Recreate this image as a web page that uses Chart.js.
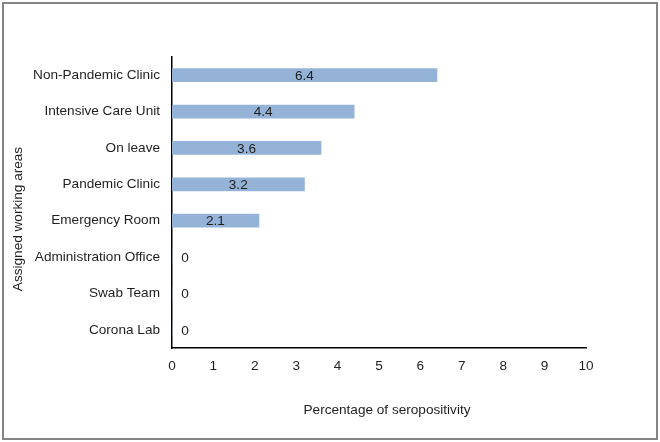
<!DOCTYPE html>
<html>
<head>
<meta charset="utf-8">
<script src="https://cdn.jsdelivr.net/npm/chart.js@4.4.0/dist/chart.umd.min.js"></script>
<style>
  html, body { margin: 0; padding: 0; background: #fff; }
  #wrap { position: relative; width: 660px; height: 442px; }
  #frame { position: absolute; left: 2px; top: 2px; width: 652px; height: 434px; border: 2px solid #858585; pointer-events: none; }
  canvas { position: absolute; left: 0; top: 0; }
</style>
</head>
<body>
<div id="wrap">
  <canvas id="chart" width="660" height="442"></canvas>
  <div id="frame"></div>
</div>
<script>
// Data
const areas = ['Non-Pandemic Clinic', 'Intensive Care Unit', 'On leave', 'Pandemic Clinic',
  'Emergency Room', 'Administration Office', 'Swab Team', 'Corona Lab'];
const seropositivity = [6.4, 4.4, 3.6, 3.2, 2.1, 0, 0, 0];
const xTicks = [0, 1, 2, 3, 4, 5, 6, 7, 8, 9, 10];

const FONT = 'Liberation Sans, Arial, sans-serif';
const SIZE = 13.6;
const TEXT = '#1f1f1f';

// Value labels inside / beside bars
const valueLabels = {
  id: 'valueLabels',
  afterDatasetsDraw(chart) {
    const ctx = chart.ctx;
    const meta = chart.getDatasetMeta(0);
    const xs = chart.scales.x;
    ctx.save();
    ctx.font = SIZE + 'px ' + FONT;
    ctx.fillStyle = TEXT;
    ctx.textAlign = 'center';
    ctx.textBaseline = 'middle';
    meta.data.forEach((bar, i) => {
      const v = seropositivity[i];
      const x = v > 0 ? (xs.getPixelForValue(0) + bar.x) / 2 : xs.getPixelForValue(0) + 13;
      ctx.fillText(String(v), x, bar.y + 1);
    });
    ctx.restore();
  }
};

// Axis titles, placed like the reference (slightly off-centre)
const axisTitles = {
  id: 'axisTitles',
  afterDraw(chart) {
    const ctx = chart.ctx;
    ctx.save();
    ctx.font = SIZE + 'px ' + FONT;
    ctx.fillStyle = TEXT;
    ctx.textAlign = 'center';
    ctx.textBaseline = 'middle';
    ctx.fillText('Percentage of seropositivity', 387, 410);
    ctx.translate(18, 219);
    ctx.rotate(-Math.PI / 2);
    ctx.fillText('Assigned working areas', 0, 0);
    ctx.restore();
  }
};

new Chart(document.getElementById('chart'), {
  type: 'bar',
  data: {
    labels: areas,
    datasets: [{
      data: seropositivity,
      backgroundColor: '#95b3d7',
      borderWidth: 0,
      barThickness: 13
    }]
  },
  options: {
    indexAxis: 'y',
    responsive: false,
    animation: false,
    layout: { padding: { top: 57, right: 74, left: 10, bottom: 24 } },
    plugins: {
      legend: { display: false },
      tooltip: { enabled: false }
    },
    scales: {
      x: {
        min: 0,
        max: 10,
        afterBuildTicks(scale) { scale.ticks = xTicks.map(v => ({ value: v })); },
        grid: { display: false, drawTicks: false },
        border: { color: '#000', width: 1.5 },
        ticks: { padding: 10, color: TEXT, font: { family: FONT, size: SIZE } },
        afterFit(scale) { scale.height = 442 - 348 - 24; }
      },
      y: {
        grid: { display: false, drawTicks: false },
        border: { color: '#000', width: 1.5 },
        ticks: { padding: 12, color: TEXT, font: { family: FONT, size: SIZE } },
        afterFit(scale) { scale.width = 172 - 10; }
      }
    }
  },
  plugins: [valueLabels, axisTitles]
});
</script>
</body>
</html>
